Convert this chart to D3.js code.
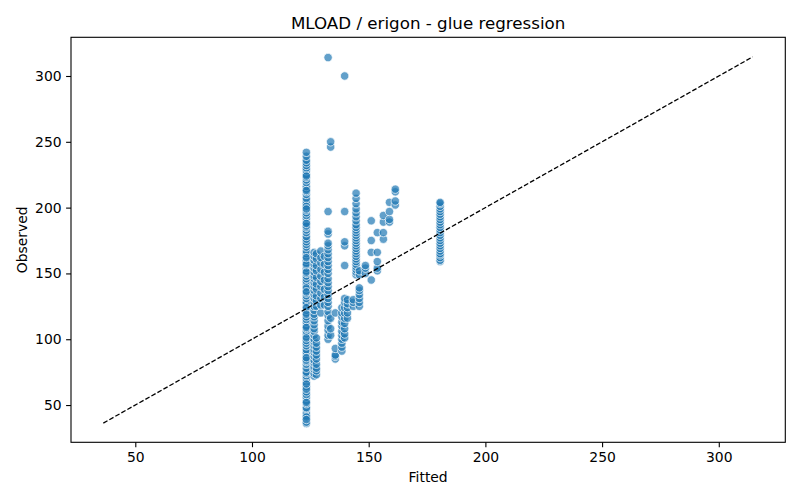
<!DOCTYPE html>
<html>
<head>
<meta charset="utf-8">
<script src="https://cdn.jsdelivr.net/npm/d3@7"></script>
<style>
  body { margin: 0; background: #fff; }
  text { font-family: "DejaVu Sans", sans-serif; fill: #000; }
</style>
</head>
<body>
<svg id="chart" width="800" height="500"></svg>
<script>
  const fitted = [123.3, 126.6, 127.6, 129.5, 131.0, 132.6, 133.7, 135.7, 138.5,
    139.7, 140.9, 143.4, 144.6, 146.0, 148.6, 151.1, 153.7, 156.3, 158.9, 161.4, 180.6]

  const observed = [
    [36, 37, 40, 42, 44, 47, 48, 51, 53, 56, 58, 60, 63, 64, 67, 70, 72, 74, 75, 78,
     81, 83, 85, 88, 90, 92, 95, 97, 99, 102, 104, 106, 108, 110, 113, 115, 117, 120,
     122, 125, 127, 128, 131, 133, 135, 137, 140, 142, 144, 146, 148, 150, 152, 154,
     156, 158, 160, 163, 165, 167, 170, 172, 174, 176, 178, 181, 183, 185, 187, 189,
     192, 194, 196, 198, 200, 203, 205, 207, 210, 212, 214, 216, 219, 221, 223, 225,
     228, 230, 232, 234, 236, 239, 242, 41, 62, 84, 101, 124, 139, 157, 186, 201,
     39, 52, 66, 86, 109, 119, 136, 151, 162, 188, 199, 213, 224],
    [72, 74, 77, 79, 82, 84, 87, 90, 92, 95, 98, 100, 103, 106, 108, 111, 114, 117,
     119, 122, 125, 128, 131, 134, 137, 140, 143, 146, 148, 151, 154, 157, 160, 163, 166],
    [73, 76, 78, 81, 85, 88, 91, 94, 97, 101, 125, 129, 133, 138, 142, 147, 152, 156, 161, 165],
    [120, 126, 131, 135, 140, 144, 148, 153, 158, 162, 167],
    [126, 132, 138, 145, 151, 157, 163],
    [100, 103, 107, 110, 114, 118, 121, 125, 128, 131, 134, 137, 140, 143, 146, 150,
     153, 156, 159, 162, 165, 168, 171, 173, 180, 182, 197, 314],
    [103, 108, 116, 246, 250],
    [85, 87, 88, 93, 120],
    [91, 94, 97, 100, 103, 106, 110, 113, 117, 120, 124],
    [101, 104, 108, 112, 116, 120, 124, 128, 131, 156, 171, 174, 197, 300],
    [116, 120, 124, 127, 130],
    [125, 128, 130],
    [149, 151, 153, 155, 157, 159, 161, 163, 165, 167, 169, 171, 173, 175, 177, 179,
     181, 183, 185, 187, 190, 193, 196, 199, 203, 207, 211],
    [125, 128, 131, 134, 137, 139, 149, 152],
    [150, 154, 156],
    [145, 166, 175, 190],
    [152, 154, 159, 166, 181],
    [176, 181, 189, 194],
    [189, 191, 197, 204],
    [202, 205, 212, 214],
    [159, 160, 162, 164, 165, 167, 169, 171, 173, 175, 177, 179, 181, 183, 185, 187,
     189, 191, 193, 195, 197, 199, 201, 203, 204]
  ]

  const xTicks = [50, 100, 150, 200, 250, 300]
  const yTicks = [50, 100, 150, 200, 250, 300]
  const lineEnds = [36.3, 314.5]

  const
    plotLeft = 71,
    plotRight = 785.3,
    plotTop = 37.3,
    plotBottom = 442.3

  const points = []
  fitted.forEach(function(f, i) {
    observed[i].forEach(function(o) { points.push({ x: f, y: o }) })
  })

  const x = d3.scaleLinear().domain([22.45, 328.5]).range([plotLeft, plotRight])
  const y = d3.scaleLinear().domain([21.7, 329.4]).range([plotBottom, plotTop])

  const svg = d3.select('#chart')

  svg.append('g')
    .selectAll('circle')
    .data(points)
    .enter()
    .append('circle')
    .attr('cx', function(d) { return x(d.x) })
    .attr('cy', function(d) { return y(d.y) })
    .attr('r', 4.2)
    .attr('fill', '#1f77b4')
    .attr('fill-opacity', 0.7)
    .attr('stroke', '#fff')
    .attr('stroke-opacity', 0.7)
    .attr('stroke-width', 1)

  svg.append('line')
    .attr('x1', x(lineEnds[0]))
    .attr('y1', y(lineEnds[0]))
    .attr('x2', x(lineEnds[1]))
    .attr('y2', y(lineEnds[1]))
    .attr('stroke', '#000')
    .attr('stroke-width', 1.3)
    .attr('stroke-dasharray', '4.8,2.1')

  const xAxis = svg.append('g')
    .attr('transform', 'translate(0,' + plotBottom + ')')
    .call(d3.axisBottom(x).tickValues(xTicks).tickSize(4.9).tickPadding(4.5))
  const yAxis = svg.append('g')
    .attr('transform', 'translate(' + plotLeft + ',0)')
    .call(d3.axisLeft(y).tickValues(yTicks).tickSize(4.9).tickPadding(4.5))

  ;[xAxis, yAxis].forEach(function(g) {
    g.select('.domain').remove()
    g.selectAll('.tick line').attr('stroke', '#000').attr('stroke-width', 1.1)
    g.selectAll('.tick text')
      .style('font-family', '"DejaVu Sans", sans-serif')
      .style('font-size', '13.9px')
      .attr('fill', '#000')
  })

  svg.append('rect')
    .attr('x', plotLeft)
    .attr('y', plotTop)
    .attr('width', plotRight - plotLeft)
    .attr('height', plotBottom - plotTop)
    .attr('fill', 'none')
    .attr('stroke', '#000')
    .attr('stroke-width', 1.1)

  svg.append('text')
    .attr('x', (plotLeft + plotRight) / 2)
    .attr('y', 29)
    .attr('text-anchor', 'middle')
    .style('font-size', '16.7px')
    .text('MLOAD / erigon - glue regression')

  svg.append('text')
    .attr('x', (plotLeft + plotRight) / 2)
    .attr('y', 482)
    .attr('text-anchor', 'middle')
    .style('font-size', '13.9px')
    .text('Fitted')

  svg.append('text')
    .attr('transform', 'translate(27,' + (plotTop + plotBottom) / 2 + ') rotate(-90)')
    .attr('text-anchor', 'middle')
    .style('font-size', '13.9px')
    .text('Observed')
</script>
</body>
</html>
